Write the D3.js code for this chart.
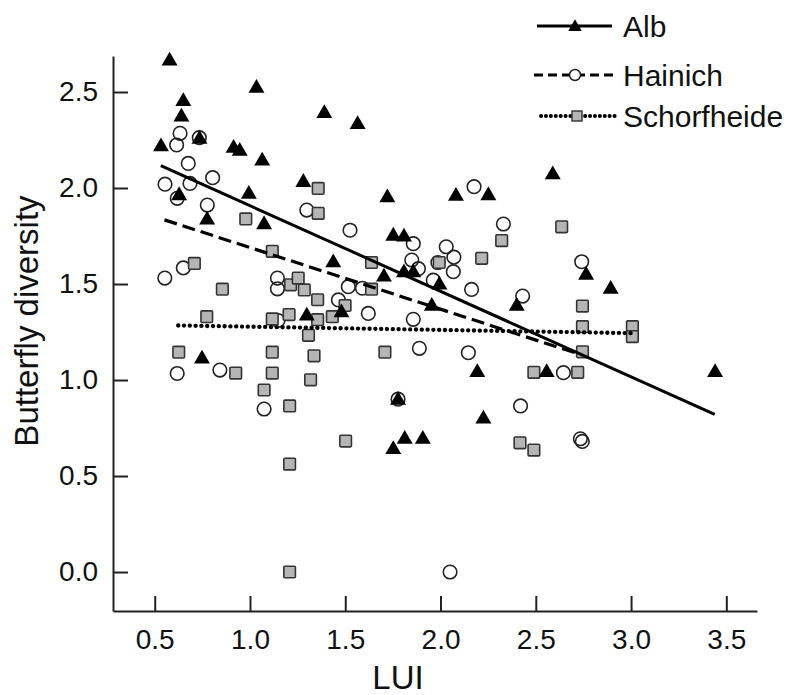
<!DOCTYPE html>
<meta charset="utf-8">
<script src="https://d3js.org/d3.v7.min.js"></script>
<style>
  body { margin: 0; background: #fff; }
  svg text { font-family: 'Liberation Sans', Arial, sans-serif; fill: #111; }
</style>
<body>
<div id="my_dataviz"></div>
<script>

// Alb (triangles)
var albX = [0.578, 0.533, 0.65, 0.64, 0.735, 0.914, 0.946, 1.034, 1.064, 0.628, 0.994, 0.775, 1.074, 1.28,
            1.39, 1.565, 1.721, 1.752, 1.808, 1.437, 1.703, 1.808, 1.857, 1.994, 1.954, 1.48, 1.298, 0.748,
            2.081, 2.251, 2.589, 2.4, 2.764, 2.893, 2.193, 2.557, 3.441, 1.777, 2.225, 1.752, 1.812, 1.907];
var albY = [2.667, 2.22, 2.456, 2.375, 2.26, 2.213, 2.197, 2.525, 2.146, 1.966, 1.973, 1.839, 1.815, 2.035,
            2.394, 2.336, 1.955, 1.755, 1.75, 1.616, 1.542, 1.564, 1.564, 1.5, 1.39, 1.356, 1.339, 1.115,
            1.963, 1.966, 2.075, 1.39, 1.552, 1.478, 1.045, 1.045, 1.045, 0.9, 0.803, 0.644, 0.697, 0.697];

// Hainich (open circles)
var haiX = [0.633, 0.615, 0.676, 0.554, 0.685, 0.618, 0.804, 0.776, 0.734, 1.298, 1.525, 0.553, 0.65, 1.144,
            1.144, 1.147, 0.618, 0.842, 1.074, 1.464, 1.516, 1.59, 1.621, 1.857, 1.849, 1.884, 1.857, 1.962,
            2.03, 2.07, 2.067, 1.986, 2.163, 2.176, 2.33, 2.431, 2.146, 1.889, 2.42, 2.645, 2.741, 2.734,
            2.744, 2.05, 1.777];
var haiY = [2.285, 2.224, 2.128, 2.02, 2.024, 1.946, 2.054, 1.911, 2.262, 1.885, 1.78, 1.531, 1.584, 1.531,
            1.475, 1.31, 1.034, 1.052, 0.849, 1.417, 1.486, 1.478, 1.347, 1.71, 1.625, 1.58, 1.316, 1.52,
            1.694, 1.64, 1.564, 1.612, 1.472, 2.007, 1.8125, 1.437, 1.142, 1.165, 0.865, 1.038, 1.616, 0.694,
            0.68, 0.0, 0.9];

// Schorfheide (grey squares)
var schX = [1.358, 1.358, 0.978, 1.117, 0.708, 0.855, 0.773, 0.626, 0.925, 1.213, 1.253, 1.285, 1.355, 1.205,
            1.117, 1.355, 1.432, 1.499, 1.307, 1.336, 1.318, 1.117, 1.117, 1.074, 1.208, 1.208, 1.208, 1.502,
            1.638, 1.638, 1.708, 1.993, 2.216, 2.321, 2.636, 2.745, 2.745, 2.745, 2.72, 2.49, 2.417, 2.49,
            3.007, 3.007];
var schY = [1.998, 1.868, 1.839, 1.67, 1.607, 1.473, 1.33, 1.145, 1.036, 1.496, 1.531, 1.469, 1.418, 1.341,
            1.318, 1.314, 1.33, 1.388, 1.233, 1.126, 1.001, 1.145, 1.036, 0.948, 0.865, 0.562, 0.0, 0.682,
            1.612, 1.473, 1.145, 1.612, 1.634, 1.726, 1.798, 1.385, 1.278, 1.147, 1.04, 1.04, 0.673, 0.635,
            1.278, 1.226];

// fitted lines: [x0, y0, x1, y1]
var albFit = [0.532, 2.116, 3.439, 0.821];
var haiFit = [0.551, 1.834, 2.734, 1.133];
var schFit = [0.623, 1.284, 3.0, 1.244];

var sites = ["Alb", "Hainich", "Schorfheide"];
var xTicks = [0.5, 1.0, 1.5, 2.0, 2.5, 3.0, 3.5];
var yTicks = [0.0, 0.5, 1.0, 1.5, 2.0, 2.5];

var W = 799, H = 695;

var svg = d3.select("#my_dataviz")
  .append("svg")
    .attr("width", W)
    .attr("height", H);

var x = d3.scaleLinear().domain([0.281, 3.661]).range([113, 757]);
var y = d3.scaleLinear().domain([-0.203, 2.6875]).range([611, 56]);

// axes, ticks pointing inward
var xAxis = svg.append("g")
  .attr("transform", "translate(0,611)")
  .call(d3.axisBottom(x).tickValues(xTicks).tickFormat(d3.format(".1f"))
        .tickSizeInner(-15).tickSizeOuter(0).tickPadding(18));
var yAxis = svg.append("g")
  .attr("transform", "translate(113,0)")
  .call(d3.axisLeft(y).tickValues(yTicks).tickFormat(d3.format(".1f"))
        .tickSizeInner(-15).tickSizeOuter(0).tickPadding(15));

[xAxis, yAxis].forEach(function(a) {
  a.select(".domain").attr("stroke", "#222").attr("stroke-width", 2);
  a.selectAll(".tick line").attr("stroke", "#222").attr("stroke-width", 2);
  a.selectAll(".tick text").style("font-size", "28px").attr("fill", "#111");
});

svg.append("text")
  .attr("x", 398)
  .attr("y", 689)
  .style("text-anchor", "middle")
  .style("font-size", "33px")
  .text("LUI");

svg.append("text")
  .attr("transform", "translate(38,321) rotate(-90)")
  .style("text-anchor", "middle")
  .style("font-size", "33px")
  .text("Butterfly diversity");

var tri = d3.symbol().type(d3.symbolTriangle);

function zip(xs, ys) { return xs.map(function(v, i) { return [v, ys[i]]; }); }

// points
svg.append("g").selectAll("circle")
  .data(zip(haiX, haiY))
  .enter().append("circle")
    .attr("cx", function(d) { return x(d[0]); })
    .attr("cy", function(d) { return y(d[1]); })
    .attr("r", 6.8)
    .attr("fill", "none")
    .attr("stroke", "#222")
    .attr("stroke-width", 1.6);

svg.append("g").selectAll("rect")
  .data(zip(schX, schY))
  .enter().append("rect")
    .attr("x", function(d) { return x(d[0]) - 5.8; })
    .attr("y", function(d) { return y(d[1]) - 5.8; })
    .attr("width", 11.6)
    .attr("height", 11.6)
    .attr("rx", 1)
    .attr("fill", "#b5b5b5")
    .attr("stroke", "#333")
    .attr("stroke-width", 1.6);

svg.append("g").selectAll("path")
  .data(zip(albX, albY))
  .enter().append("path")
    .attr("transform", function(d) { return "translate(" + x(d[0]) + "," + (y(d[1]) + 1) + ")"; })
    .attr("d", tri.size(110))
    .attr("fill", "#000");

// regression lines
var fits = [
  {f: albFit, dash: null, w: 3, cap: "butt"},
  {f: haiFit, dash: "13 6", w: 3.2, cap: "butt"},
  {f: schFit, dash: "0.1 5.7", w: 4.3, cap: "round"}
];
fits.forEach(function(l) {
  svg.append("line")
    .attr("x1", x(l.f[0])).attr("y1", y(l.f[1]))
    .attr("x2", x(l.f[2])).attr("y2", y(l.f[3]))
    .attr("stroke", "#000")
    .attr("stroke-width", l.w)
    .attr("stroke-linecap", l.cap)
    .attr("stroke-dasharray", l.dash);
});

// legend
var legY = [26, 75, 116];
var leg = svg.append("g");
leg.append("line").attr("x1", 537).attr("x2", 612).attr("y1", legY[0]).attr("y2", legY[0])
  .attr("stroke", "#000").attr("stroke-width", 3);
leg.append("path").attr("transform", "translate(575," + (legY[0] + 1) + ")")
  .attr("d", tri.size(80)).attr("fill", "#000");

leg.append("line").attr("x1", 534).attr("x2", 615).attr("y1", legY[1]).attr("y2", legY[1])
  .attr("stroke", "#000").attr("stroke-width", 3.2).attr("stroke-dasharray", "9 5");
leg.append("circle").attr("cx", 575).attr("cy", legY[1]).attr("r", 5.5)
  .attr("fill", "#fff").attr("stroke", "#222").attr("stroke-width", 1.5);

leg.append("line").attr("x1", 541).attr("x2", 615).attr("y1", legY[2]).attr("y2", legY[2])
  .attr("stroke", "#000").attr("stroke-width", 4).attr("stroke-linecap", "round")
  .attr("stroke-dasharray", "0.1 4.8");
leg.append("rect").attr("x", 572).attr("y", legY[2] - 5).attr("width", 10).attr("height", 10)
  .attr("fill", "#b5b5b5").attr("stroke", "#333").attr("stroke-width", 1.4);

leg.selectAll("text")
  .data(sites)
  .enter().append("text")
    .attr("x", 623)
    .attr("y", function(d, i) { return legY[i]; })
    .attr("dy", "0.36em")
    .style("font-size", "30px")
    .text(function(d) { return d; });

</script>
</body>
